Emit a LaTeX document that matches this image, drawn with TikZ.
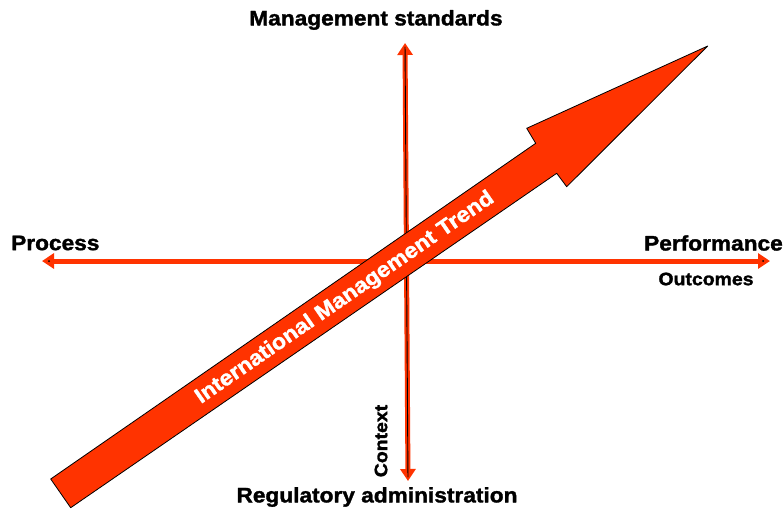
\documentclass[tikz,border=0pt]{standalone}
\usepackage{fontspec}
\usetikzlibrary{arrows.meta}
\newfontfamily\heavyfont[BoldFeatures={FakeStretch=1.08,FakeBold=1.6}]{Liberation Sans}
\definecolor{trendred}{RGB}{255,51,0}
\tikzset{
	axis/.style={trendred,line width=5pt,{Triangle[length=12pt,width=15pt]}-{Triangle[length=12pt,width=15pt]}},
	core/.style={black,line width=0.9pt,shorten <=4pt,shorten >=4pt},
	caption/.style={font=\heavyfont\bfseries\fontsize{21}{24}\selectfont,inner sep=0pt},
	small caption/.style={font=\heavyfont\bfseries\fontsize{18}{21}\selectfont,inner sep=0pt}
}
\begin{document}
\begin{tikzpicture}[x=1pt,y=-1pt,line join=round,line cap=round]
			\useasboundingbox (0,0) rectangle (784,512);
			% ends of the two axes
			\coordinate (up) at (405,43);
			\coordinate (down) at (408,481);
			\coordinate (left) at (42,261);
			\coordinate (right) at (770,261);
			\draw[axis] (left)--(right);
			\fill (left) ++(7,0) circle(1pt) (right) ++(-7,0) circle(1pt);
			\draw[axis] (up)--(down);
			\draw[core] (up)--(down);
			% the big trend arrow
			\filldraw[fill=trendred,draw=black,line width=0.8pt]
				(707.7,46)--(526.7,128.3)--(535.7,143.3)--(50.7,479)--(70.7,507.7)--(556.7,173.3)--(566.7,186.7)--cycle;
			\node[caption,text=white,rotate=34.6,font=\heavyfont\bfseries\fontsize{21.5}{24}\selectfont] (trend) at (345,298) {International Management Trend};
			% axis labels
			\node[caption] (standards) at (376,20) {Management standards};
			\node[caption] (regulatory) at (377,497) {Regulatory administration};
			\node[caption,anchor=west] (process) at (11,243) {Process};
			\node[caption,anchor=east] (performance) at (783,243) {Performance};
			\node[small caption] (outcomes) at (706,279) {Outcomes};
			\node[small caption,rotate=90] (context) at (381,441) {Context};
	\end{tikzpicture}
\end{document}
